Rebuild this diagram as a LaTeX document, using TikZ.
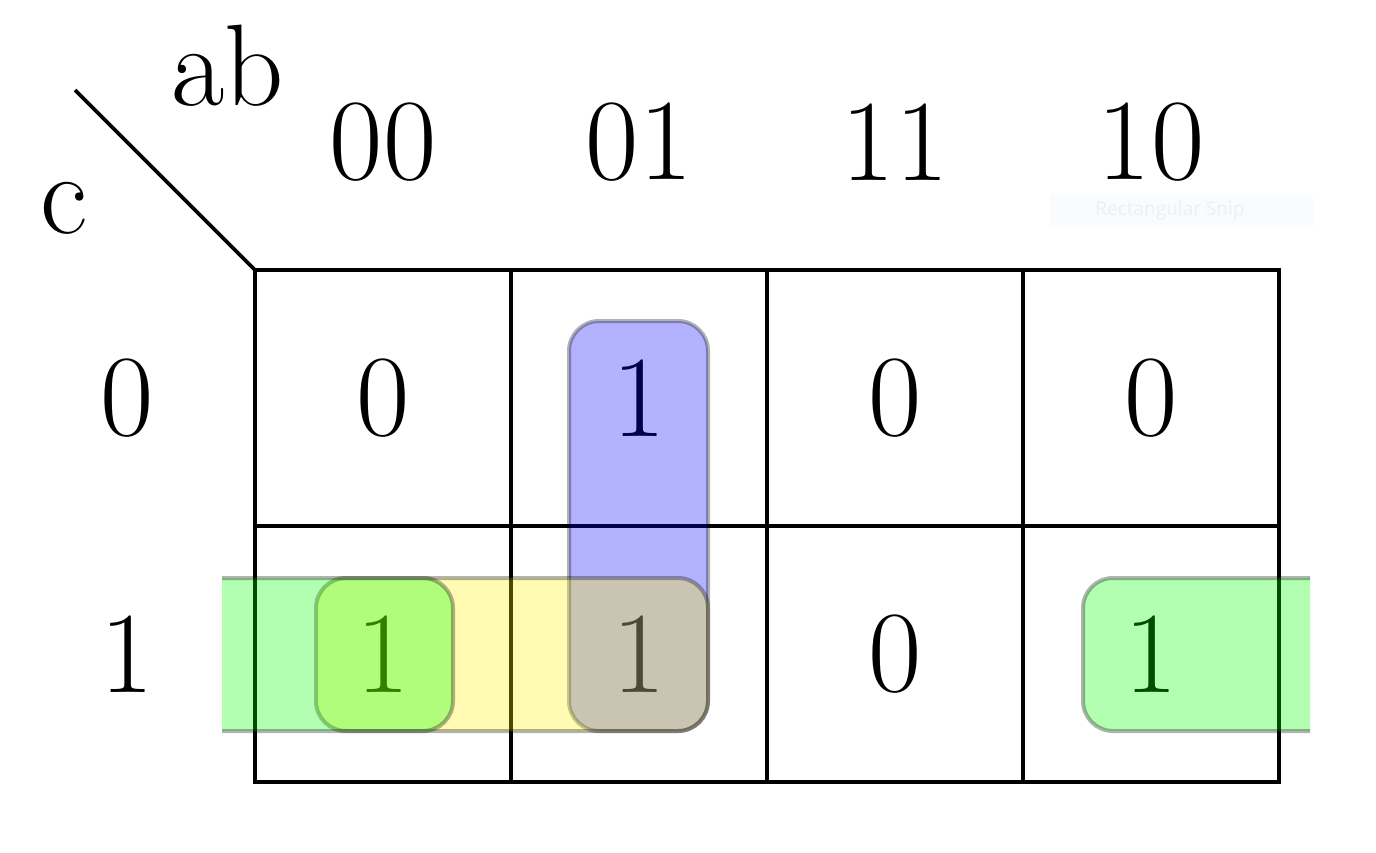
\documentclass[tikz,border=0pt]{standalone}
\usepackage{fontspec}
\setmainfont{Latin Modern Roman}
\newfontfamily\snipfont{Open Sans}
\definecolor{snipbg}{RGB}{250,251,253}
\definecolor{sniptxt}{RGB}{236,239,243}
\begin{document}
\begin{tikzpicture}[x=1pt,y=-1pt,
  lbl/.style={font=\fontsize{116}{130}\selectfont, inner sep=0pt},
  grp/.style={rounded corners=30pt, draw=black, line width=4pt, opacity=0.3},
  gridline/.style={line width=4.8pt},
]
\useasboundingbox (0,0) rectangle (1376,852);
\fill[white] (0,0) rectangle (1376,852);
% grid
\coordinate (corner) at (255,270);
\coordinate (dstart) at (75,90);
\draw[gridline] (255,270) rectangle (1279,782);
\draw[gridline] (255,526) -- (1279,526);
\draw[gridline] (511,270) -- (511,782);
\draw[gridline] (767,270) -- (767,782);
\draw[gridline] (1023,270) -- (1023,782);
\draw[line width=3.8pt] (dstart) -- (corner);
% variable labels
\node[lbl, anchor=base] (ab) at (228,105) {ab};
\node[lbl, anchor=base] (cv) at (64,233) {c};
% column headers
\node[lbl] (h00) at (383,142) {00};
\node[lbl] (h01) at (639,142) {01};
\node[lbl] (h11) at (895,142) {11};
\node[lbl] (h10) at (1151,142) {10};
% row headers
\node[lbl] (r0) at (127,398) {0};
\node[lbl] (r1) at (127,654) {1};
% cells
\node[lbl] (m00) at (383,398) {0};
\node[lbl] (m01) at (639,398) {1};
\node[lbl] (m02) at (895,398) {0};
\node[lbl] (m03) at (1151,398) {0};
\node[lbl] (m10) at (383,654) {1};
\node[lbl] (m11) at (639,654) {1};
\node[lbl] (m12) at (895,654) {0};
\node[lbl] (m13) at (1151,654) {1};
% groups
\draw[grp, fill=blue] (569,321) rectangle (708,731);
\draw[grp, fill=yellow] (316,578) rectangle (708,731);
\begin{scope}
  \clip (222,0) rectangle (1310,852);
  \draw[grp, fill=green] (150,578) rectangle (453,731);
  \draw[grp, fill=green] (1083,578) rectangle (1420,731);
\end{scope}
% faint snip label
\node[fill=snipbg, minimum width=263pt, minimum height=32pt, inner sep=0pt,
      text=sniptxt, font=\snipfont\fontsize{19}{22}\selectfont] (snip) at (1181,211) {\hspace*{-22pt}Rectangular Snip};
\end{tikzpicture}
\end{document}
